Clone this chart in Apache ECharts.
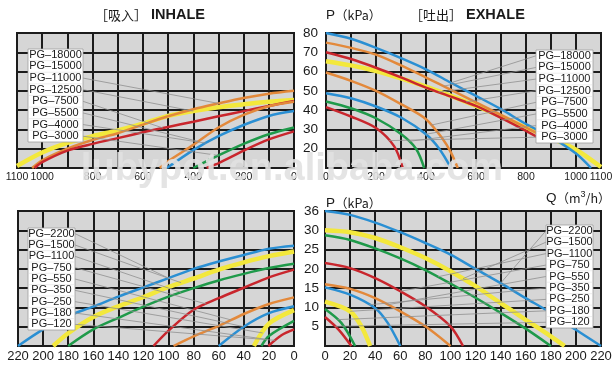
<!DOCTYPE html>
<html><head><meta charset="utf-8">
<script src="https://cdn.jsdelivr.net/npm/echarts@6/dist/echarts.min.js"></script>
<style>html,body{margin:0;padding:0;background:#fff}#c{width:612px;height:366px}</style>
</head><body><div id="c"></div>
<script>
// ---------------- DATA ----------------
// Large pumps, INHALE (Q m3/h, P kPa)
const TL_YELLOW  = [[1100,11],[1000,18],[900,23],[800,26.5],[700,29.5],[600,33],[500,37],[400,39.5],[300,41.5],[200,43],[100,44.3],[0,45.3]];
const TL_ORANGE1 = [[1040,10],[1000,14],[900,20],[800,24.5],[700,28],[600,32.5],[500,36.8],[400,40.5],[300,43.5],[200,46.3],[100,48.5],[0,50]];
const TL_RED1    = [[1030,10],[1000,13],[900,19],[800,22.5],[700,25.5],[600,28.5],[500,31.3],[400,34],[300,36.8],[200,39.5],[100,42.2],[0,44.8]];
const TL_ORANGE2 = [[533,10],[500,13.5],[400,22],[300,31],[200,37.5],[100,42],[0,44.3]];
const TL_BLUE    = [[505,10],[400,19.3],[300,26.5],[200,32.3],[100,37],[0,39.5]];
const TL_GREEN   = [[400,10],[300,16.5],[200,22.5],[100,27.5],[0,31]];
const TL_RED2    = [[347,10],[300,12.5],[200,19],[100,24.8],[0,29]];
// Large pumps, EXHALE
const TR_BLUE1   = [[0,80],[100,77],[200,72.3],[300,67],[400,61.2],[500,54.2],[600,47.4],[700,40.5],[800,32.8],[900,26],[1000,17.5],[1060,10]];
const TR_ORANGE1 = [[0,75],[100,72.3],[200,68.8],[300,63.2],[400,56.9],[500,50.5],[600,44],[700,37.5],[800,31],[860,27]];
const TR_RED1    = [[0,70],[100,66.5],[200,62],[300,57],[400,51.7],[500,47],[600,42.2],[700,36],[800,29.3],[860,25]];
const TR_YELLOW  = [[0,65.4],[100,63.2],[200,60.3],[300,56.5],[400,52.2],[500,47.4],[600,42.2],[700,36.8],[800,31],[900,25.5],[1000,19.5],[1100,10.5]];
const TR_ORANGE2 = [[0,59.5],[100,55.2],[200,50],[300,43.1],[400,35.3],[467,25],[500,18],[527,10]];
const TR_BLUE2   = [[0,48.8],[100,46.2],[200,41.9],[300,36.2],[400,27.5],[453,20],[500,10]];
const TR_GREEN   = [[0,44.5],[100,41],[200,35.8],[300,27.6],[360,20],[393,10]];
const TR_RED2    = [[0,41.6],[100,36.7],[200,30.7],[273,21.2],[307,10]];
// Small pumps, INHALE
const BL_BLUE1   = [[220,0],[200,4.3],[180,7.8],[160,10.2],[140,12.8],[120,15.2],[100,17.6],[80,20],[60,21.9],[40,23.6],[20,25.2],[0,26]];
const BL_YELLOW1 = [[192,0],[180,3.3],[160,7.5],[140,10.3],[120,12.7],[100,15.3],[80,17.5],[60,19.8],[40,21.7],[20,23.3],[0,24.5]];
const BL_GREEN1  = [[180,0],[160,4.3],[140,7.3],[120,10.2],[100,12.8],[80,15],[60,17],[40,18.7],[20,20.2],[0,21.3]];
const BL_RED1    = [[112,0],[100,4],[80,9.4],[60,12.4],[40,15.1],[20,17.8],[0,19.8]];
const BL_ORANGE  = [[96,0],[80,2.5],[60,5.2],[40,8.3],[20,10.9],[0,12.6]];
const BL_BLUE2   = [[60,0],[40,5],[20,8.5],[0,10.3]];
const BL_YELLOW2 = [[32,0],[20,5.8],[0,9.3]];
const BL_GREEN2  = [[26,0],[20,2.6],[0,6.5]];
const BL_RED2    = [[20.5,0],[10,2.8],[0,4.3]];
// Small pumps, EXHALE
const BR_BLUE1   = [[0,35],[20,34],[40,32],[60,29.5],[80,26.7],[100,23.7],[120,20],[140,16.3],[160,12.4],[180,8.6],[200,4.2],[220,0]];
const BR_YELLOW1 = [[0,30],[20,29.5],[40,28],[60,25.6],[80,22.8],[100,19.4],[120,15.5],[140,11.1],[160,6.8],[180,2.5],[191,0]];
const BR_GREEN1  = [[0,28.7],[20,27.5],[40,25.3],[60,22.7],[80,19.7],[100,16.2],[120,12.5],[140,8.6],[160,4.5],[180,0]];
const BR_RED1    = [[0,21.5],[20,20.2],[40,17.6],[60,14.2],[80,10.3],[100,5.1],[110,0]];
const BR_ORANGE  = [[0,16],[20,14.8],[40,12.4],[60,9],[80,5.1],[100,0]];
const BR_BLUE2   = [[0,15.2],[20,13.3],[40,9.8],[50,6],[60,0]];
const BR_YELLOW2 = [[0,11.5],[20,9],[29,5.1],[36,0]];
const BR_GREEN2  = [[0,9.6],[13,6],[24,0]];
const BR_RED2    = [[0,7.5],[11,4.2],[21,0]];

// Tick labels
const TOP_X_LABELS = [0,200,400,600,800,1000,1100];
const TOP_Y_LABELS = [20,30,40,50,60,70,80];
const BOTTOM_X_LABELS = [0,20,40,60,80,100,120,140,160,180,200,220];
const BOTTOM_Y_VALUES = [5,10,15,20,25,30,35];
const BOTTOM_Y_TEXTS  = ['5','10','15','20','25','30','36'];

// Legend names
const LARGE_MODELS = ['PG–18000','PG–15000','PG–11000','PG–12500','PG–7500','PG–5500','PG–4000','PG–3000'];
const SMALL_MODELS = ['PG–2200','PG–1500','PG–1100','PG–750','PG–550','PG–350','PG–250','PG–180','PG–120'];

// ---------------- STYLE / LAYOUT ----------------
const FONT = '"Liberation Sans", Arial, Helvetica, sans-serif';
const CJK = '"Noto Sans CJK SC", "Noto Sans CJK JP", sans-serif';
const COL = {blue:'#2a8fd3', orange:'#e3893b', red:'#c9262d', yellow:'#f3e83c', green:'#1f9a4a'};
const GRID_BG = '#d6d6d6', LINE = '#1c1c1c';

const panels = [
  {curves:[['yellow',TL_YELLOW],['orange',TL_ORANGE1],['red',TL_RED1],['orange',TL_ORANGE2],['blue',TL_BLUE],['green',TL_GREEN],['red',TL_RED2]]},
  {curves:[['yellow',TR_YELLOW],['blue',TR_BLUE1],['orange',TR_ORANGE1],['red',TR_RED1],['orange',TR_ORANGE2],['blue',TR_BLUE2],['green',TR_GREEN],['red',TR_RED2]]},
  {curves:[['blue',BL_BLUE1],['yellow',BL_YELLOW1],['green',BL_GREEN1],['red',BL_RED1],['orange',BL_ORANGE],['blue',BL_BLUE2],['yellow',BL_YELLOW2],['green',BL_GREEN2],['red',BL_RED2]]},
  {curves:[['blue',BR_BLUE1],['yellow',BR_YELLOW1],['green',BR_GREEN1],['red',BR_RED1],['orange',BR_ORANGE],['blue',BR_BLUE2],['yellow',BR_YELLOW2],['green',BR_GREEN2],['red',BR_RED2]]}
];

const grids = [
  {left:17, top:33, width:277, height:135},
  {left:326, top:33, width:275, height:135},
  {left:18, top:211, width:276, height:135},
  {left:325, top:211, width:276, height:135}
].map(g => Object.assign({show:true, backgroundColor:GRID_BG, borderColor:LINE, borderWidth:2,
  containLabel:false, outerBoundsMode:'none'}, g));

function baseAxis(gi){
  return {type:'value', gridIndex:gi, axisLine:{show:false}, axisTick:{show:false},
    splitLine:{show:true, lineStyle:{color:LINE, width:2}}};
}
function lab(o){ return Object.assign({color:'#1a1a1a', fontFamily:FONT, hideOverlap:false, showMinLabel:true, showMaxLabel:true}, o); }
const xAxes = [
  Object.assign(baseAxis(0), {min:0, max:1100, interval:100, inverse:true,
    axisLabel:lab({margin:4, fontSize:10.5, formatter:v => TOP_X_LABELS.indexOf(v)>=0 ? String(v) : ''})}),
  Object.assign(baseAxis(1), {min:0, max:1100, interval:100,
    axisLabel:lab({margin:4, fontSize:10.5, formatter:v => TOP_X_LABELS.indexOf(v)>=0 ? String(v) : ''})}),
  Object.assign(baseAxis(2), {min:0, max:220, interval:20, inverse:true,
    axisLabel:lab({margin:4, fontSize:13, formatter:v => BOTTOM_X_LABELS.indexOf(v)>=0 ? String(v) : ''})}),
  Object.assign(baseAxis(3), {min:0, max:220, interval:20,
    axisLabel:lab({margin:4, fontSize:13, formatter:v => BOTTOM_X_LABELS.indexOf(v)>=0 ? String(v) : ''})})
];
const yAxes = [
  Object.assign(baseAxis(0), {min:10, max:80, interval:10, axisLabel:{show:false}}),
  Object.assign(baseAxis(1), {min:10, max:80, interval:10,
    axisLabel:lab({margin:8, fontSize:13.5, formatter:v => TOP_Y_LABELS.indexOf(v)>=0 ? String(v) : ''})}),
  Object.assign(baseAxis(2), {min:0, max:35, interval:5, axisLabel:{show:false}}),
  Object.assign(baseAxis(3), {min:0, max:35, interval:5,
    axisLabel:lab({margin:6, fontSize:13.5, formatter:v => { const i = BOTTOM_Y_VALUES.indexOf(v); return i>=0 ? BOTTOM_Y_TEXTS[i] : ''; }})})
];

const series = [];
panels.forEach((p, gi) => {
  p.curves.forEach(([c, pts], k) => {
    const data = pts.slice().sort((a,b)=>a[0]-b[0]);
    series.push({type:'line', xAxisIndex:gi, yAxisIndex:gi, data, smooth:0.3,
      showSymbol:false, silent:true, clip:true, z:3+k,
      lineStyle:{color:COL[c], width: c==='yellow' ? 4.5 : 2.5}});
  });
});

const chart = echarts.init(document.getElementById('c'));
chart.setOption({animation:false, grid:grids, xAxis:xAxes, yAxis:yAxes, series});

// ---------------- ANNOTATIONS ----------------
function interp(pts, q){
  const d = pts.slice().sort((a,b)=>a[0]-b[0]);
  for (let i=0;i<d.length-1;i++){
    if (q>=d[i][0] && q<=d[i+1][0]){ const t=(q-d[i][0])/(d[i+1][0]-d[i][0]); return d[i][1]+t*(d[i+1][1]-d[i][1]); }
  }
  return d[d.length-1][1];
}
const boxes = [
  {x:28, y:49, w:55, h:93, names:LARGE_MODELS, side:'right', grid:0,
   leaders:[null,null,[TL_ORANGE1,300],[TL_YELLOW,400],[TL_RED1,520],[TL_ORANGE2,380],[TL_BLUE,350],[TL_GREEN,300]]},
  {x:536, y:50, w:57, h:93, names:LARGE_MODELS, side:'left', grid:1,
   leaders:[[TR_BLUE1,500],[TR_ORANGE1,470],[TR_RED1,450],[TR_YELLOW,560],[TR_ORANGE2,420],[TR_BLUE2,400],[TR_GREEN,330],[TR_RED2,250]]},
  {x:28, y:228, w:47, h:102, names:SMALL_MODELS, side:'right', grid:2,
   leaders:[[BL_BLUE1,100],[BL_YELLOW1,90],[BL_GREEN1,90],[BL_RED1,70],[BL_ORANGE,50],[BL_BLUE2,40],[BL_YELLOW2,25],[BL_GREEN2,22],[BL_RED2,15]]},
  {x:546, y:225, w:47, h:103, names:SMALL_MODELS, side:'left', grid:3,
   leaders:[[BR_BLUE1,140],[BR_YELLOW1,110],[BR_GREEN1,90],[BR_RED1,60],[BR_ORANGE,50],[BR_BLUE2,35],[BR_YELLOW2,20],[BR_GREEN2,10],[BR_RED2,8]]}
];

const graphic = [];
boxes.forEach(b => {
  const rh = b.h / b.names.length;
  b.leaders.forEach((L, i) => {
    if (!L) return;
    const end = chart.convertToPixel({gridIndex:b.grid}, [L[1], interp(L[0], L[1])]);
    const sx = b.side==='right' ? b.x + b.w : b.x;
    graphic.push({type:'line', z:50, silent:true,
      shape:{x1:sx, y1:b.y + rh*(i+0.5), x2:end[0], y2:end[1]},
      style:{stroke:'#8f8f8f', lineWidth:0.8}});
  });
  graphic.push({type:'rect', z:60, silent:true, shape:{x:b.x, y:b.y, width:b.w, height:b.h},
    style:{fill:'#ffffff', stroke:'#a0a0a0', lineWidth:0.8}});
  b.names.forEach((n, i) => {
    if (i>0) graphic.push({type:'line', z:61, silent:true,
      shape:{x1:b.x+1, y1:b.y+rh*i, x2:b.x+b.w-1, y2:b.y+rh*i}, style:{stroke:'#e2e2e2', lineWidth:0.6}});
    graphic.push({type:'text', z:62, silent:true, x:b.x + b.w/2, y:b.y + rh*(i+0.5),
      style:{text:n, font:'11px ' + FONT, fill:'#1a1a1a', textAlign:'center', textVerticalAlign:'middle', align:'center', verticalAlign:'middle'}});
  });
});

function title(x, y, rich, parts){
  graphic.push({type:'text', z:70, silent:true, x, y,
    style:{text:parts, rich, textAlign:'left', textVerticalAlign:'middle', align:'left', verticalAlign:'middle'}});
}
const rich = {
  cjk:{fontFamily:CJK, fontSize:13, fill:'#1a1a1a'},
  en:{fontFamily:FONT, fontSize:14.5, fontWeight:'bold', fill:'#1a1a1a'},
  u:{fontFamily:FONT, fontSize:13.5, fill:'#1a1a1a'},
  p:{fontFamily:CJK, fontSize:12.5, fill:'#1a1a1a'},
  sup:{fontFamily:FONT, fontSize:9, fill:'#1a1a1a', verticalAlign:'top', padding:[0,0,6,0]}
};
title(95, 15, rich, '{cjk|［吸入］}{en| INHALE}');
title(410, 15, rich, '{cjk|［吐出］}{en| EXHALE}');
title(326, 15, rich, '{u|P}{p|（kPa）}');
title(326, 203, rich, '{u|P}{p|（kPa）}');
title(546, 198, rich, '{u|Q}{p|（m}{sup|3}{p|/h）}');

// watermark
graphic.push({type:'text', z:100, silent:true, x:292, y:170,
  style:{text:'lubypot.en.alibaba.com', font:'bold 38px ' + FONT, fill:'rgba(225,225,225,0.9)',
    textAlign:'center', textVerticalAlign:'middle', align:'center', verticalAlign:'middle'}});

chart.setOption({graphic});
</script></body></html>
